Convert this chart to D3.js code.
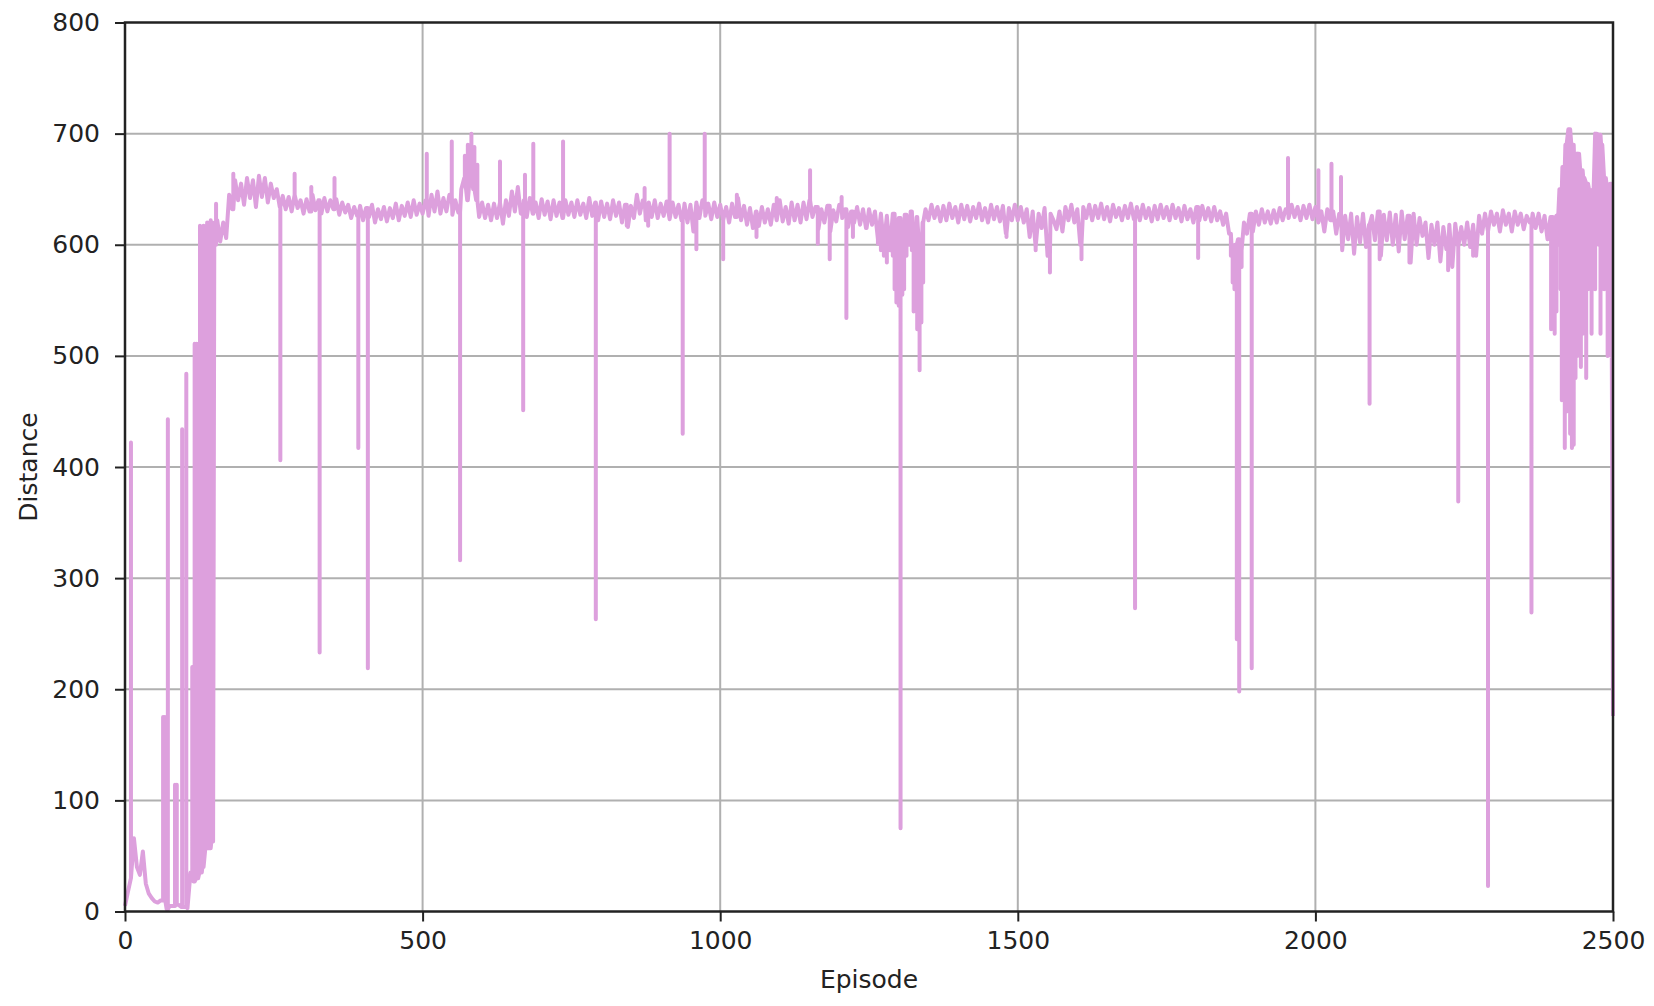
<!DOCTYPE html>
<html lang="en">
<head>
<meta charset="utf-8" />
<title>distance per episode</title>
<script src="https://d3js.org/d3.v7.min.js"></script>
<style>
  body { margin: 0; background: #fff; }
  text { font-family: "DejaVu Sans", sans-serif; fill: #222; }
</style>
</head>
<body>
<div id="chart"></div>
<script>
// running level, one reading every 5 episodes
const episodeStep = 5;
const distance = [
  // 0 - 120
  5, 18, 30, 66, 40, 33, 54, 25, 16, 12, 9, 8, 10, 12, 2, 5, 5, 6, 6, 4, 4, 3, 35, 27, 30,
  // 125 - 245
  35, 40, 57, 57, 63, 600, 622, 603, 620, 606, 645, 632, 658, 640, 655, 636, 660, 642, 658, 634, 662, 643, 660, 638, 655,
  // 250 - 370
  642, 650, 634, 644, 632, 643, 630, 645, 633, 640, 628, 641, 630, 645, 631, 640, 628, 642, 630, 640, 632, 641, 627, 638, 629,
  // 375 - 495
  636, 624, 634, 626, 635, 622, 633, 625, 636, 620, 632, 623, 634, 621, 633, 624, 637, 622, 635, 626, 638, 625, 640, 627, 637,
  // 500 - 620
  628, 640, 626, 645, 630, 648, 628, 642, 630, 645, 627, 640, 629, 650, 660, 640, 665, 650, 640, 625, 638, 624, 636, 622, 637,
  // 625 - 745
  624, 638, 619, 640, 626, 648, 630, 652, 628, 640, 625, 642, 628, 638, 624, 641, 627, 639, 623, 640, 626, 638, 624, 640, 627,
  // 750 - 870
  638, 625, 640, 627, 637, 624, 642, 626, 638, 622, 639, 625, 637, 623, 640, 626, 638, 620, 636, 616, 635, 624, 645, 628, 640,
  // 875 - 995
  622, 638, 625, 640, 624, 637, 626, 639, 623, 638, 625, 636, 622, 637, 620, 636, 612, 638, 624, 640, 626, 637, 623, 638, 625,
  // 1000 - 1120
  636, 622, 634, 620, 637, 625, 642, 622, 635, 618, 633, 615, 630, 617, 634, 620, 632, 618, 636, 622, 640, 621, 634, 619, 638,
  // 1125 - 1245
  622, 636, 620, 638, 623, 640, 625, 634, 614, 632, 620, 635, 612, 631, 621, 636, 624, 632, 616, 630, 620, 634, 618, 632, 615,
  // 1250 - 1370
  632, 618, 630, 605, 628, 600, 626, 595, 628, 598, 624, 590, 627, 600, 630, 598, 625, 590, 620, 632, 622, 636, 624, 634, 621,
  // 1375 - 1495
  635, 622, 637, 624, 634, 620, 636, 623, 635, 621, 634, 624, 637, 622, 633, 620, 636, 623, 634, 621, 635, 610, 633, 622, 636,
  // 1500 - 1620
  622, 634, 620, 632, 607, 630, 598, 628, 615, 633, 590, 628, 622, 614, 630, 612, 634, 622, 636, 620, 632, 600, 634, 624, 636,
  // 1625 - 1745
  622, 635, 624, 637, 623, 634, 621, 636, 625, 633, 622, 635, 624, 637, 623, 634, 622, 636, 624, 633, 621, 635, 623, 636, 624,
  // 1750 - 1870
  634, 622, 636, 624, 633, 621, 635, 623, 632, 620, 634, 622, 635, 623, 633, 621, 634, 622, 630, 618, 628, 610, 590, 600, 605,
  // 1875 - 1995
  595, 620, 610, 628, 612, 630, 618, 632, 620, 630, 619, 631, 620, 633, 622, 632, 624, 636, 625, 634, 622, 635, 624, 636, 623,
  // 2000 - 2120
  634, 620, 630, 612, 632, 622, 630, 610, 628, 595, 626, 605, 628, 592, 625, 602, 628, 598, 618, 626, 604, 630, 590, 627, 604,
  // 2125 - 2245
  629, 600, 627, 594, 630, 605, 626, 584, 628, 600, 624, 608, 620, 588, 618, 600, 620, 585, 616, 596, 618, 580, 619, 598, 616,
  // 2250 - 2370
  600, 620, 598, 618, 590, 626, 610, 628, 612, 630, 618, 628, 612, 631, 618, 628, 612, 630, 618, 628, 614, 626, 620, 628, 615,
  // 2375 - 2495
  628, 612, 626, 605, 625, 622, 626, 650, 670, 690, 704, 690, 670, 682, 667, 660, 655, 649, 640, 700, 699, 690, 660, 650, 655,
  // 2500
  176
];

// single-episode excursions away from the running level: [episode, distance]
const spikes = [
  [10, 422], [64, 175], [67, 175], [72, 443], [84, 114], [87, 114], [96, 434], [103, 484],
  [113, 220], [117, 511], [120, 511], [123, 511], [126, 617], [129, 612], [132, 617], [135, 615],
  [138, 620], [141, 618], [144, 622], [147, 620], [148, 368], [153, 637], [182, 664],
  [261, 406], [285, 664], [313, 652], [327, 233], [352, 660], [392, 417], [408, 219],
  [507, 682], [549, 693], [563, 316], [571, 680], [576, 690], [582, 700], [587, 688], [592, 672],
  [630, 675], [669, 451], [672, 663], [686, 691], [736, 693],
  [791, 263], [843, 617], [873, 651], [879, 617], [915, 700], [937, 430], [960, 596], [974, 700],
  [1005, 587], [1028, 645], [1061, 607], [1095, 642], [1151, 667], [1164, 601], [1184, 587],
  [1204, 643], [1212, 534], [1223, 607], [1246, 618],
  [1265, 601], [1270, 595], [1275, 590], [1280, 584], [1285, 600], [1290, 590], [1293, 560],
  [1296, 548], [1300, 545], [1303, 75], [1306, 555], [1309, 560], [1313, 590], [1318, 600],
  [1322, 595], [1325, 540], [1328, 560], [1331, 524], [1335, 487], [1338, 530], [1341, 566],
  [1481, 607], [1530, 595], [1554, 575], [1607, 587], [1697, 273], [1803, 588],
  [1858, 590], [1861, 566], [1864, 560], [1868, 245], [1872, 198], [1876, 580], [1893, 219], [1954, 678],
  [2005, 667], [2027, 673], [2043, 661], [2091, 457], [2108, 587], [2158, 584], [2223, 577],
  [2240, 369], [2265, 590], [2290, 23], [2363, 269],
  [2396, 524], [2399, 560], [2402, 520], [2405, 540], [2408, 600], [2412, 560], [2414, 460],
  [2417, 500], [2419, 417], [2422, 450], [2425, 470], [2428, 430], [2431, 417], [2434, 420],
  [2437, 480], [2440, 500], [2443, 560], [2446, 490], [2449, 520], [2452, 600], [2455, 480],
  [2458, 560], [2461, 600], [2464, 520], [2467, 600], [2470, 560], [2473, 620], [2476, 600],
  [2479, 520], [2482, 600], [2485, 560], [2488, 610], [2491, 500], [2494, 600], [2497, 500]
];

const xTicks = [0, 500, 1000, 1500, 2000, 2500];
const yTicks = [0, 100, 200, 300, 400, 500, 600, 700, 800];
const xLabel = "Episode";
const yLabel = "Distance";

const width = 1654, height = 1006;
const plotLeft = 125, plotRight = 1613, plotTop = 22.5, plotBottom = 911.5;

// merge level readings and excursions into one ordered list of points
const points = [];
distance.forEach((v, i) => {
  const ep = i * episodeStep;
  points.push([ep, v]);
  spikes.filter(s => s[0] >= ep && s[0] < ep + episodeStep)
    .sort((a, b) => a[0] - b[0])
    .forEach(s => { points.push([s[0], v], [s[0], s[1]], [s[0], v]); });
});

const svg = d3.select("#chart").append("svg")
    .attr("width", width)
    .attr("height", height);

const x = d3.scaleLinear().domain([0, 2500]).range([plotLeft, plotRight]);
const y = d3.scaleLinear().domain([0, 800]).range([plotBottom, plotTop]);

// grid
svg.append("g").selectAll("line")
    .data(xTicks.slice(1, -1))
    .join("line")
    .attr("x1", d => x(d)).attr("x2", d => x(d))
    .attr("y1", plotTop).attr("y2", plotBottom)
    .attr("stroke", "#b0b0b0").attr("stroke-width", 2);

svg.append("g").selectAll("line")
    .data(yTicks.slice(1, -1))
    .join("line")
    .attr("y1", d => y(d)).attr("y2", d => y(d))
    .attr("x1", plotLeft).attr("x2", plotRight)
    .attr("stroke", "#b0b0b0").attr("stroke-width", 2);

// the series
const line = d3.line()
    .x(d => x(d[0]))
    .y(d => y(d[1]));

svg.append("path")
    .datum(points)
    .attr("d", line)
    .attr("fill", "none")
    .attr("stroke", "#dda0dd")
    .attr("stroke-width", 4)
    .attr("stroke-linejoin", "round");

// axes
const xAxis = svg.append("g")
    .attr("transform", "translate(0," + plotBottom + ")")
    .call(d3.axisBottom(x).tickValues(xTicks).tickFormat(d3.format("d"))
        .tickSize(10).tickSizeOuter(0).tickPadding(10));

const yAxis = svg.append("g")
    .attr("transform", "translate(" + plotLeft + ",0)")
    .call(d3.axisLeft(y).tickValues(yTicks).tickFormat(d3.format("d"))
        .tickSize(10).tickSizeOuter(0).tickPadding(15));

[xAxis, yAxis].forEach(g => {
  g.select(".domain").remove();
  g.selectAll(".tick line").attr("stroke", "#222").attr("stroke-width", 2);
  g.selectAll(".tick text").attr("font-size", 25).attr("fill", "#222")
      .attr("font-family", "DejaVu Sans, sans-serif");
});

// frame
svg.append("rect")
    .attr("x", plotLeft).attr("y", plotTop)
    .attr("width", plotRight - plotLeft).attr("height", plotBottom - plotTop)
    .attr("fill", "none")
    .attr("stroke", "#222").attr("stroke-width", 2.5);

// titles
svg.append("text")
    .attr("x", (plotLeft + plotRight) / 2).attr("y", 988)
    .attr("text-anchor", "middle")
    .attr("font-size", 25)
    .text(xLabel);

svg.append("text")
    .attr("transform", "translate(37," + (plotTop + plotBottom) / 2 + ") rotate(-90)")
    .attr("text-anchor", "middle")
    .attr("font-size", 25)
    .text(yLabel);
</script>
</body>
</html>
